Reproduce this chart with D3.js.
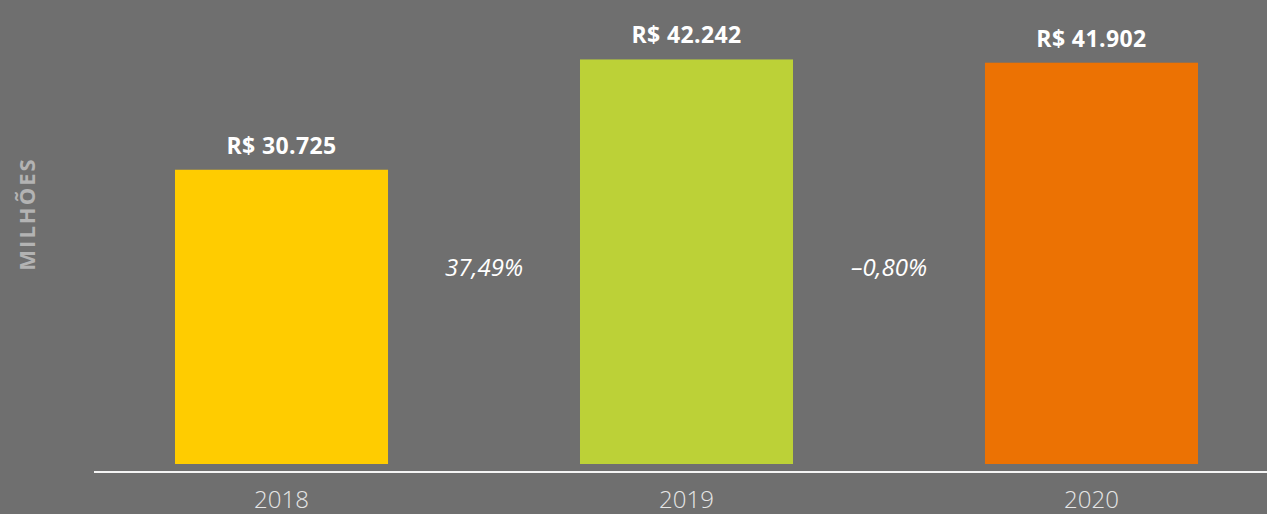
<!DOCTYPE html>
<html>
<head>
<meta charset="utf-8">
<script src="https://cdn.jsdelivr.net/npm/d3@7"></script>
<style>
  html, body { margin: 0; padding: 0; background: #6f6f6f; }
  svg { display: block; }
</style>
</head>
<body>
<svg id="chart" width="1267" height="514"></svg>
<script>
// Receita anual (milhões de R$)
const years = ["2018", "2019", "2020"];
const values = [30725, 42242, 41902];
const valueLabels = ["R$ 30.725", "R$ 42.242", "R$ 41.902"];
const colors = ["#ffcc00", "#bcd137", "#ec7203"];
// Variação entre anos consecutivos
const changeLabels = ["37,49%", "–0,80%"];
const axisTitle = "MILHÕES";

const W = 1267, H = 514;
const svg = d3.select("#chart");
svg.append("rect").attr("width", W).attr("height", H).attr("fill", "#6f6f6f");

const x = d3.scaleBand().domain(years).range([175, 1198]).paddingInner(0.474).paddingOuter(0);
const y = d3.scaleLinear().domain([0, 48450]).range([464, 0]);

const font = "'Open Sans', 'Noto Sans', sans-serif";

// Barras
svg.append("g").selectAll("rect")
  .data(years)
  .join("rect")
  .attr("x", d => x(d))
  .attr("width", x.bandwidth())
  .attr("y", (d, i) => y(values[i]))
  .attr("height", (d, i) => y(0) - y(values[i]))
  .attr("fill", (d, i) => colors[i]);

// Valores sobre as barras
svg.append("g").selectAll("text")
  .data(years)
  .join("text")
  .attr("x", d => x(d) + x.bandwidth() / 2)
  .attr("y", (d, i) => y(values[i]) - 16)
  .attr("text-anchor", "middle")
  .attr("fill", "#ffffff")
  .style("font-family", font)
  .style("font-weight", 700)
  .style("font-size", "23px")
  .style("letter-spacing", "0.4px")
  .text((d, i) => valueLabels[i]);

// Variação percentual entre as barras
svg.append("g").selectAll("text")
  .data(changeLabels)
  .join("text")
  .attr("x", (d, i) => (x(years[i]) + x(years[i + 1]) + x.bandwidth()) / 2)
  .attr("y", 276)
  .attr("text-anchor", "middle")
  .attr("fill", "#ffffff")
  .style("font-family", font)
  .style("font-weight", 400)
  .style("font-style", "italic")
  .style("font-size", "24px")
  .text(d => d);

// Eixo horizontal
const xAxis = svg.append("g")
  .attr("transform", "translate(0,472)")
  .call(d3.axisBottom(x).tickSize(0).tickPadding(19));
xAxis.select(".domain").remove();
xAxis.append("line")
  .attr("x1", 94).attr("x2", W)
  .attr("stroke", "#f4f4f4").attr("stroke-width", 2);
xAxis.selectAll(".tick text")
  .attr("fill", "#e6e6e6")
  .style("font-family", font)
  .style("font-weight", 300)
  .style("font-size", "24px");

// Título do eixo vertical
svg.append("text")
  .attr("transform", "translate(35,214) rotate(-90)")
  .attr("text-anchor", "middle")
  .attr("fill", "#b3b3b3")
  .style("font-family", font)
  .style("font-weight", 700)
  .style("font-size", "22px")
  .style("letter-spacing", "2px")
  .text(axisTitle);
</script>
</body>
</html>
